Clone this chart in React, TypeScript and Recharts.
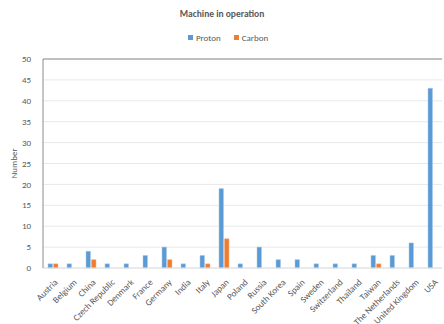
import React from 'react';
import { BarChart, Bar, XAxis, YAxis, CartesianGrid, ReferenceLine } from 'recharts';

const countries = ['Austria','Belgium','China','Czech Republic','Denmark','France','Germany','India','Italy','Japan','Poland','Russia','South Korea','Spain','Sweden','Switzerland','Thailand','Taiwan','The Netherlands','United Kingdom','USA'];
const proton = [1,1,4,1,1,3,5,1,3,19,1,5,2,2,1,1,1,3,3,6,43];
const carbon = [1,0,2,0,0,0,2,0,1,7,0,0,0,0,0,0,0,1,0,0,0];
const yTicks = [0,5,10,15,20,25,30,35,40,45,50];

const data = countries.map((c, i) => ({ name: c, Proton: proton[i], Carbon: carbon[i] || null }));

const font = 'Calibri, Carlito, "Open Sans", "Liberation Sans", sans-serif';

const XTick = (props: any) => {
  const { x, y, payload } = props;
  return (
    <g transform={`translate(${x + 3},${y + 4})`}>
      <text x={0} y={0} dy={4} textAnchor="end" transform="rotate(-45)" fontSize={9} fill="#595959" fontFamily={font}>
        {payload.value}
      </text>
    </g>
  );
};

export default function App() {
  return (
    <div style={{ position: 'absolute', left: 0, top: 0, width: 444, height: 324, background: '#fff' }}>
      <div style={{ position: 'absolute', top: 8, left: 0, width: 444, textAlign: 'center', fontSize: 9.5, fontWeight: 'bold', color: '#595959', fontFamily: font }}>
        Machine in operation
      </div>
      <div style={{ position: 'absolute', top: 32, left: 6, width: 444, display: 'flex', justifyContent: 'center', gap: 13, fontSize: 9, color: '#595959', fontFamily: font }}>
        <span style={{ display: 'flex', alignItems: 'center' }}>
          <span style={{ width: 5, height: 5, background: '#5B9BD5', marginRight: 3, display: 'inline-block' }} />Proton
        </span>
        <span style={{ display: 'flex', alignItems: 'center' }}>
          <span style={{ width: 5, height: 5, background: '#ED7D31', marginRight: 3, display: 'inline-block' }} />Carbon
        </span>
      </div>
      <BarChart width={444} height={324} data={data} margin={{ top: 59, right: 2, bottom: 0, left: 0 }} barGap={1} barSize={4.5}>
        <CartesianGrid vertical={false} stroke="#e8e8e8" />
        <XAxis dataKey="name" interval={0} height={56} tick={<XTick />} tickLine={false} axisLine={{ stroke: '#e0e0e0' }} />
        <YAxis domain={[0, 50]} ticks={yTicks} width={43} interval={0} tickLine={false} axisLine={{ stroke: '#8c8c8c' }}
          tick={{ fontSize: 9, fill: '#595959', fontFamily: font }} tickMargin={6}
          label={{ value: 'Number', angle: -90, position: 'insideLeft', offset: 14, style: { fontSize: 9, fill: '#595959', fontFamily: font, textAnchor: 'middle' } }} />
        <ReferenceLine y={50} stroke="#8c8c8c" />
        <Bar dataKey="Proton" fill="#5B9BD5" stroke="#a9c9e8" strokeWidth={0.5} isAnimationActive={false} />
        <Bar dataKey="Carbon" fill="#ED7D31" stroke="#f5b78f" strokeWidth={0.5} isAnimationActive={false} />
      </BarChart>
    </div>
  );
}
